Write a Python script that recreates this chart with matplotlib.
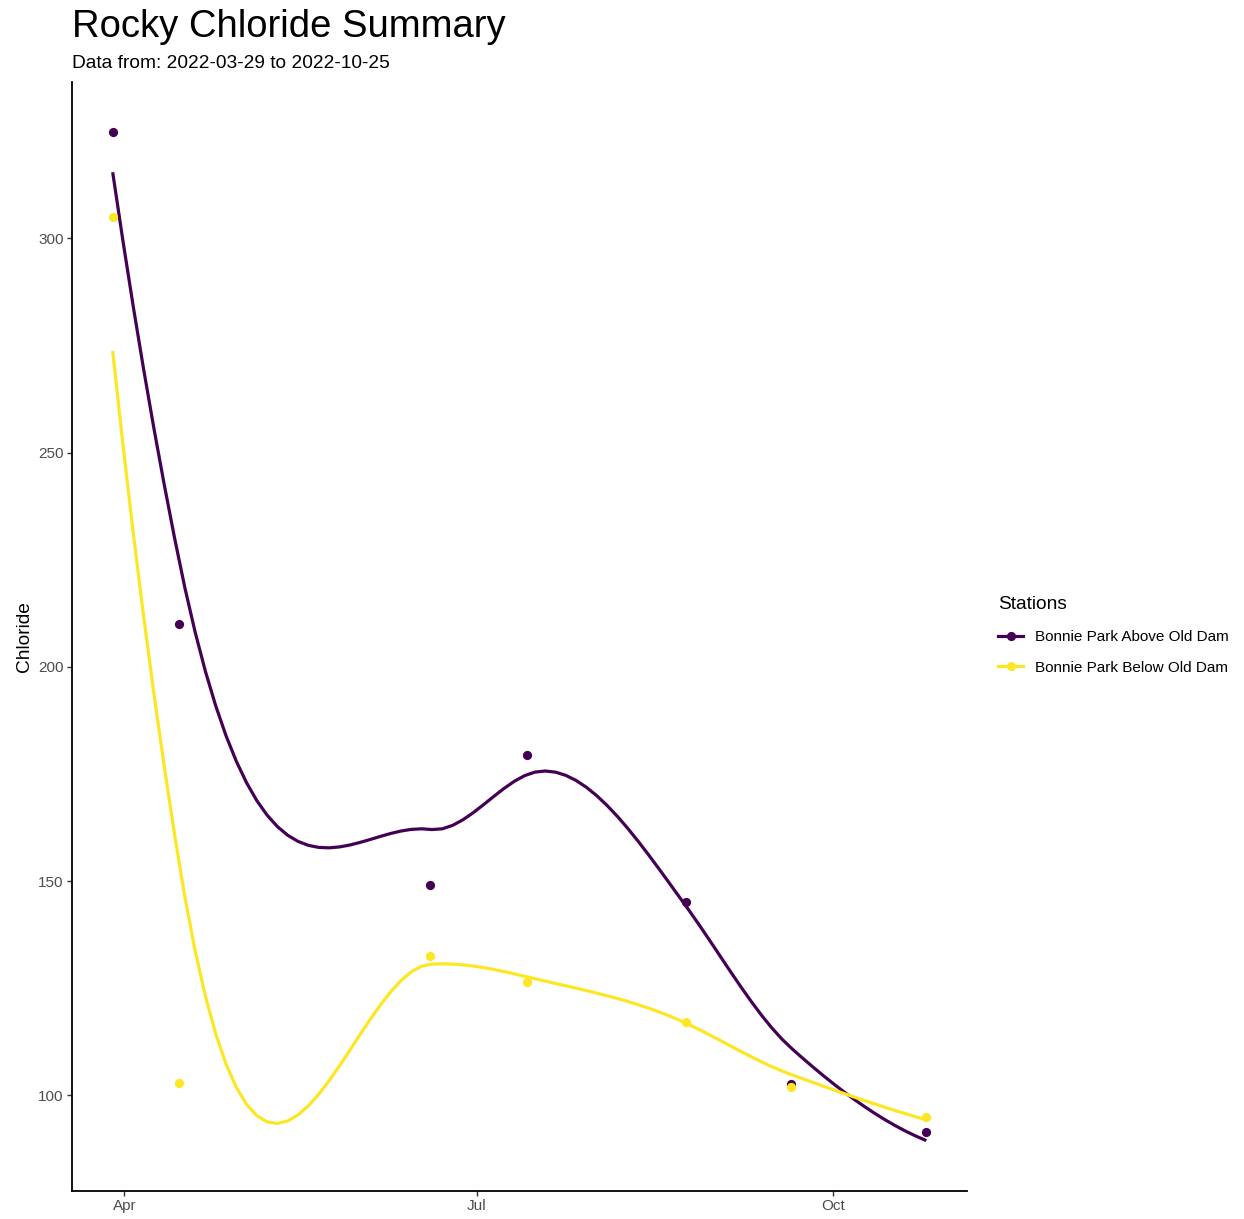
import numpy as np
import pandas as pd
import matplotlib
matplotlib.use("Agg")
import matplotlib.pyplot as plt
import matplotlib.dates as mdates
from matplotlib.lines import Line2D
from matplotlib.ticker import MultipleLocator

plt.rcParams['font.family'] = ['Liberation Sans', 'DejaVu Sans']

# ---------------- data ----------------
stations = ["Bonnie Park Above Old Dam", "Bonnie Park Below Old Dam"]
dates = ["2022-03-29", "2022-04-15", "2022-06-19", "2022-07-14",
         "2022-08-24", "2022-09-20", "2022-10-25"]
above_old_dam = [324.7, 210.0, 149.1, 179.4, 145.1, 102.6, 91.4]
below_old_dam = [305.0, 103.0, 132.5, 126.5, 117.2, 101.9, 95.0]
colors = ["#440154", "#FDE725"]
title = "Rocky Chloride Summary"
subtitle = "Data from: 2022-03-29 to 2022-10-25"


# ------------- loess (R style, kd-tree vertices + cubic Hermite) -------------
def local_fit(x, y, x0, span=0.75, degree=2):
    n = len(x)
    q = int(np.floor(n * span))
    d = np.abs(x - x0)
    h = np.sort(d)[q - 1]
    w = np.where(d < h, (1 - (d / h) ** 3) ** 3, 0.0)
    X = np.vander(x - x0, degree + 1, increasing=True)
    sw = np.sqrt(w)
    beta, *_ = np.linalg.lstsq(X * sw[:, None], y * sw, rcond=None)
    return beta[0], beta[1]


def loess_curve(x, y, xs_eval, span=0.75, cell=0.2):
    order = np.argsort(x)
    x = np.asarray(x, float)[order]
    y = np.asarray(y, float)[order]
    n = len(x)
    fc = int(np.floor(n * span * cell))
    mu = 0.005 * max(x[-1] - x[0], 1e-10 * max(abs(x[0]), abs(x[-1])) + 1e-30)
    lo, hi = x[0] - mu, x[-1] + mu
    verts = {lo, hi}

    def split(l, u, vlo, vhi):
        if u - l + 1 <= fc:
            return
        m = (l + 1 + u + 1) // 2 - 1
        v = x[m]
        if v == vlo or v == vhi:
            return
        verts.add(v)
        split(l, m, vlo, v)
        split(m + 1, u, v, vhi)

    split(0, n - 1, lo, hi)
    vs = np.array(sorted(verts))
    vals = np.array([local_fit(x, y, v, span) for v in vs])
    out = []
    for z in xs_eval:
        i = np.clip(np.searchsorted(vs, z) - 1, 0, len(vs) - 2)
        v0, v1 = vs[i], vs[i + 1]
        g0, s0 = vals[i]
        g1, s1 = vals[i + 1]
        hh = v1 - v0
        t = (z - v0) / hh
        phi0 = (1 - t) ** 2 * (1 + 2 * t)
        phi1 = t ** 2 * (3 - 2 * t)
        psi0 = t * (1 - t) ** 2
        psi1 = -t ** 2 * (1 - t)
        out.append(phi0 * g0 + phi1 * g1 + (psi0 * s0 + psi1 * s1) * hh)
    return np.array(out)


# ---------------- plot ----------------
W, H = 1244, 1219
fig = plt.figure(figsize=(W / 100, H / 100), dpi=100)
ax = fig.add_axes([72 / W, (H - 1191) / H, (967 - 72) / W, (1191 - 82) / H])

xnum = mdates.date2num(pd.to_datetime(dates))
grid = np.linspace(xnum.min(), xnum.max(), 80)

series = [above_old_dam, below_old_dam]
for vals, col in zip(series, colors):
    ax.scatter(xnum, vals, s=44, color=col, zorder=3, linewidths=0)
for vals, col in zip(series, colors):
    ax.plot(grid, loess_curve(xnum, vals, grid), color=col, lw=2.3,
            zorder=2, solid_capstyle='butt')

ax.margins(x=0.05, y=0.05)
ax.xaxis.set_major_locator(mdates.MonthLocator(bymonth=[1, 4, 7, 10]))
ax.xaxis.set_major_formatter(mdates.DateFormatter('%b'))
ax.yaxis.set_major_locator(MultipleLocator(50))

for s in ['top', 'right']:
    ax.spines[s].set_visible(False)
for s in ['left', 'bottom']:
    ax.spines[s].set_linewidth(1.3)
    ax.spines[s].set_color('black')
ax.tick_params(axis='both', length=3.4, width=1.0, color='#333333',
               labelcolor='#4D4D4D', labelsize=11, pad=2.5)
ax.set_ylabel("Chloride", fontsize=13.75, labelpad=4)

fig.text(72 / W, 1 - 37 / H, title, fontsize=27.5, va='baseline', ha='left')
fig.text(72 / W, 1 - 68 / H, subtitle, fontsize=13.75, va='baseline', ha='left')

handles = [Line2D([], [], color=c, lw=2.3, marker='o', markersize=6.6,
                  markeredgewidth=0) for c in colors]
leg = fig.legend(handles, stations, title="Stations", loc='upper left',
                 bbox_to_anchor=(992 / W, 1 - 590 / H), frameon=False,
                 fontsize=11, title_fontsize=13.75, handlelength=1.65,
                 handletextpad=0.75, labelspacing=1.1, alignment='left',
                 borderaxespad=0, borderpad=0.4)

fig.savefig("out.png", dpi=100)
